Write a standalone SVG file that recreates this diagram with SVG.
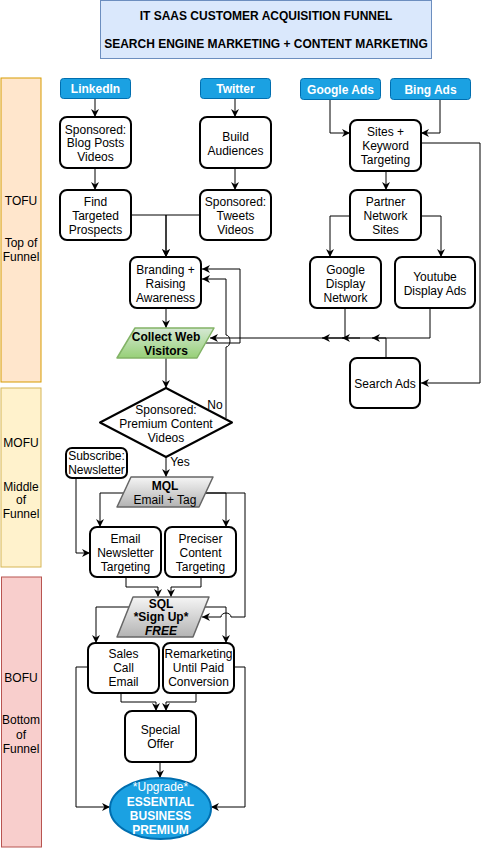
<svg xmlns="http://www.w3.org/2000/svg" width="495" height="848" viewBox="0 0 495 848">
<style>
text{font-family:"Liberation Sans",Arial,Helvetica,sans-serif;font-size:12px;text-anchor:middle;fill:#000}
.b{font-weight:bold}
.w{fill:#fff}
.box{fill:#fff;stroke:#000;stroke-width:2}
.blue{fill:#1ba1e2;stroke:#006eaf;stroke-width:1}
.c{fill:none;stroke:#000;stroke-width:1}
.a{marker-end:url(#arr)}
</style>
<defs>
<marker id="arr" viewBox="0 0 10 10" refX="10" refY="5" markerWidth="8" markerHeight="8" markerUnits="userSpaceOnUse" orient="auto">
<path d="M0,0 L10,5 L0,10 L3,5 z" fill="#000"/>
</marker>
<linearGradient id="gGreen" x1="0" y1="0" x2="0" y2="1"><stop offset="0" stop-color="#d5e8d4"/><stop offset="1" stop-color="#97d077"/></linearGradient>
<linearGradient id="gGray" x1="0" y1="0" x2="0" y2="1"><stop offset="0" stop-color="#f5f5f5"/><stop offset="1" stop-color="#b3b3b3"/></linearGradient>
</defs>

<g id="title">
<rect x="100.5" y="0.5" width="331" height="58" fill="#dae8fc" stroke="#6c8ebf"/>
<text class="b" x="266" y="20">IT SAAS CUSTOMER ACQUISITION FUNNEL</text>
<text class="b" x="266" y="48">SEARCH ENGINE MARKETING + CONTENT MARKETING</text>
</g>

<g id="lane-tofu">
<rect x="1" y="78" width="40" height="304" fill="#ffe6cc" stroke="#d79b00"/>
<text x="21" y="205">TOFU</text>
<text x="21" y="247">Top of</text>
<text x="21" y="261">Funnel</text>
</g>
<g id="lane-mofu">
<rect x="1" y="388" width="40" height="179" fill="#fff2cc" stroke="#d6b656"/>
<text x="21" y="447">MOFU</text>
<text x="21" y="491">Middle</text>
<text x="21" y="504">of</text>
<text x="21" y="518">Funnel</text>
</g>
<g id="lane-bofu">
<rect x="1.5" y="577" width="40" height="270" fill="#f8cecc" stroke="#b85450"/>
<text x="21" y="682">BOFU</text>
<text x="21" y="724">Bottom</text>
<text x="21" y="739">of</text>
<text x="21" y="753">Funnel</text>
</g>

<g id="connectors">
<path class="c a" d="M95,99 V117"/>
<path class="c a" d="M95,168 V190"/>
<path class="c a" d="M235,99 V117"/>
<path class="c a" d="M235,168 V190"/>
<path class="c a" d="M131,215 H166 V257"/>
<path class="c a" d="M200,215 H166 V257"/>
<path class="c a" d="M166,308 V328"/>
<path class="c a" d="M166,358 V388"/>
<path class="c a" d="M206,343 H240 V269 H202"/>
<path class="c a" d="M226,418 V347 A4,6 0 0 0 226,335 V279 H202"/>
<path class="c a" d="M166,457 V477"/>
<path class="c a" d="M76,478 V553 H90"/>
<path class="c a" d="M124,493 H100 V527"/>
<path class="c a" d="M205,493 H226 V527"/>
<path class="c a" d="M205,493 H245 V617 H231 A5,4 0 0 0 221,617 H202"/>
<path class="c a" d="M126,577 V587 H158 V597"/>
<path class="c a" d="M201,577 V587 H171 V597"/>
<path class="c a" d="M129,607 H96 V643"/>
<path class="c a" d="M205,607 H226 V643"/>
<path class="c a" d="M121,693 V702 H156 V711"/>
<path class="c a" d="M196,693 V702 H166 V711"/>
<path class="c a" d="M160,762 V778"/>
<path class="c a" d="M88,667 H76 V807 H110"/>
<path class="c a" d="M234,667 H245 V807 H211"/>
<path class="c a" d="M330,100 V133 H350"/>
<path class="c a" d="M440,100 V133 H421"/>
<path class="c a" d="M386,171 V190"/>
<path class="c a" d="M350,216 H330 V257"/>
<path class="c a" d="M421,216 H441 V257"/>
<path class="c a" d="M421,143 H480 V383 H421"/>
<path class="c a" d="M430,308 V338 H210"/>
<path class="c a" d="M345,308 V338 H322"/>
<path class="c a" d="M386,358 V338 H372"/>
<path class="c a" d="M360,338 H342"/>
<text x="215" y="409">No</text>
<text x="180" y="466">Yes</text>
</g>

<g id="linkedin"><rect class="blue" x="60.5" y="78.5" width="70" height="20" rx="3"/><text class="b w" x="95.5" y="93">LinkedIn</text></g>
<g id="twitter"><rect class="blue" x="200.5" y="78.5" width="70" height="20" rx="3"/><text class="b w" x="235.5" y="93">Twitter</text></g>
<g id="google-ads"><rect class="blue" x="300.5" y="78.5" width="80" height="21" rx="3"/><text class="b w" x="340.5" y="94">Google Ads</text></g>
<g id="bing-ads"><rect class="blue" x="390.5" y="78.5" width="80" height="21" rx="3"/><text class="b w" x="430.5" y="94">Bing Ads</text></g>

<g id="sponsored-blog"><rect class="box" x="60" y="117" width="71" height="51" rx="7"/><text x="95.5" y="134">Sponsored:</text><text x="95.5" y="147">Blog Posts</text><text x="95.5" y="161">Videos</text></g>
<g id="find-prospects"><rect class="box" x="60" y="190" width="71" height="50" rx="7"/><text x="95.5" y="206">Find</text><text x="95.5" y="220">Targeted</text><text x="95.5" y="234">Prospects</text></g>
<g id="build-audiences"><rect class="box" x="200" y="117" width="71" height="51" rx="7"/><text x="235.5" y="141">Build</text><text x="235.5" y="155">Audiences</text></g>
<g id="sponsored-tweets"><rect class="box" x="200" y="190" width="71" height="50" rx="7"/><text x="235.5" y="206">Sponsored:</text><text x="235.5" y="220">Tweets</text><text x="235.5" y="234">Videos</text></g>
<g id="branding"><rect class="box" x="130" y="257" width="71" height="51" rx="7"/><text x="165.5" y="274">Branding +</text><text x="165.5" y="288">Raising</text><text x="165.5" y="302">Awareness</text></g>
<g id="collect"><path d="M135,328 H214 L197,358 H117 Z" fill="url(#gGreen)" stroke="#82b366" stroke-width="1.5" stroke-linejoin="round"/><text class="b" x="166" y="341">Collect Web</text><text class="b" x="166" y="355">Visitors</text></g>

<g id="sites"><rect class="box" x="350" y="120" width="71" height="51" rx="7"/><text x="385.5" y="136">Sites +</text><text x="385.5" y="150">Keyword</text><text x="385.5" y="164">Targeting</text></g>
<g id="partner"><rect class="box" x="350" y="190" width="71" height="50" rx="7"/><text x="385.5" y="206">Partner</text><text x="385.5" y="220">Network</text><text x="385.5" y="234">Sites</text></g>
<g id="google-display"><rect class="box" x="310" y="257" width="71" height="51" rx="7"/><text x="345.5" y="274">Google</text><text x="345.5" y="288">Display</text><text x="345.5" y="302">Network</text></g>
<g id="youtube"><rect class="box" x="395" y="257" width="80" height="51" rx="7"/><text x="435" y="281">Youtube</text><text x="435" y="295">Display Ads</text></g>
<g id="search-ads"><rect class="box" x="350" y="358" width="70" height="50" rx="7"/><text x="385" y="388">Search Ads</text></g>

<g id="diamond"><path d="M166,388 L232,422.5 L166,457 L100,422.5 Z" fill="#fff" stroke="#000" stroke-width="2" stroke-linejoin="round"/><text x="166" y="414">Sponsored:</text><text x="166" y="428">Premium Content</text><text x="166" y="442">Videos</text></g>
<g id="subscribe"><rect class="box" x="66" y="448" width="61" height="30" rx="6"/><text x="96.5" y="460">Subscribe:</text><text x="96.5" y="474">Newsletter</text></g>
<g id="mql"><path d="M131,477 H213 L199,507 H117 Z" fill="url(#gGray)" stroke="#666" stroke-width="1.5" stroke-linejoin="round"/><text class="b" x="165" y="490">MQL</text><text x="165" y="504">Email + Tag</text></g>
<g id="email-newsletter"><rect class="box" x="90" y="527" width="71" height="50" rx="7"/><text x="125.5" y="543">Email</text><text x="125.5" y="557">Newsletter</text><text x="125.5" y="571">Targeting</text></g>
<g id="preciser"><rect class="box" x="165" y="527" width="71" height="50" rx="7"/><text x="200.5" y="543">Preciser</text><text x="200.5" y="557">Content</text><text x="200.5" y="571">Targeting</text></g>
<g id="sql"><path d="M133,597 H209 L193,637 H117 Z" fill="url(#gGray)" stroke="#666" stroke-width="1.5" stroke-linejoin="round"/><text class="b" x="161" y="608">SQL</text><text class="b" x="161" y="621">*Sign Up*</text><text class="b" x="161" y="635" font-style="italic">FREE</text></g>
<g id="sales-call"><rect class="box" x="88" y="643" width="71" height="50" rx="7"/><text x="123.5" y="658">Sales</text><text x="123.5" y="672">Call</text><text x="123.5" y="686">Email</text></g>
<g id="remarketing"><rect class="box" x="163" y="643" width="71" height="50" rx="7"/><text x="198.5" y="658">Remarketing</text><text x="198.5" y="672">Until Paid</text><text x="198.5" y="686">Conversion</text></g>
<g id="special-offer"><rect class="box" x="125" y="711" width="71" height="51" rx="7"/><text x="160.5" y="734">Special</text><text x="160.5" y="748">Offer</text></g>
<g id="upgrade"><ellipse cx="160.5" cy="808.5" rx="50.5" ry="30.5" fill="#1ba1e2" stroke="#006eaf" stroke-width="2"/><text class="w" x="160.5" y="791">*Upgrade*</text><text class="b w" x="160.5" y="806">ESSENTIAL</text><text class="b w" x="160.5" y="820">BUSINESS</text><text class="b w" x="160.5" y="834">PREMIUM</text></g>
</svg>
